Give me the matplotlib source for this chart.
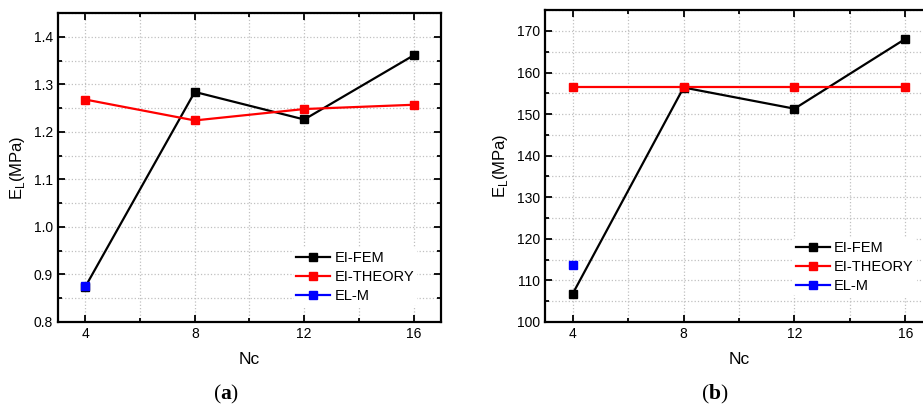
import matplotlib
matplotlib.use("Agg")
import matplotlib.pyplot as plt
import matplotlib.ticker as mticker

plt.rcParams['font.family'] = ['Liberation Sans', 'DejaVu Sans']
plt.rcParams['mathtext.fontset'] = 'custom'
plt.rcParams['mathtext.rm'] = 'Liberation Sans'
plt.rcParams['mathtext.bf'] = 'Liberation Serif:bold'

nc = [4, 8, 12, 16]

# panel (a)
fem_a = [0.874, 1.284, 1.226, 1.361]
theory_a = [1.268, 1.224, 1.248, 1.257]
elm_a = [0.875]

# panel (b)
fem_b = [106.8, 156.4, 151.3, 168.1]
theory_b = [156.5, 156.5, 156.5, 156.5]
elm_b = [113.7]

fig = plt.figure(figsize=(9.23, 4.08), dpi=100)

def style_axes(ax, ylim, ymajor, yminor):
    ax.set_xlim(3, 17)
    ax.set_ylim(*ylim)
    ax.xaxis.set_major_locator(mticker.FixedLocator(nc))
    ax.xaxis.set_minor_locator(mticker.FixedLocator([6, 10, 14]))
    ax.yaxis.set_major_locator(mticker.MultipleLocator(ymajor))
    ax.yaxis.set_minor_locator(mticker.MultipleLocator(yminor))
    ax.grid(True, which='both', linestyle=':', color='#c0c0c0', linewidth=0.9)
    ax.set_axisbelow(True)
    ax.tick_params(which='both', direction='in', top=True, right=True, width=1.3, labelsize=10)
    ax.tick_params(which='major', length=5)
    ax.tick_params(which='minor', length=3)
    for s in ax.spines.values():
        s.set_linewidth(1.6)
    ax.set_xlabel('Nc', fontsize=12.5, labelpad=8)
    ax.set_ylabel(r'E$_\mathrm{L}$(MPa)', fontsize=12, labelpad=5)

def draw(ax, fem, theory, elm):
    kw = dict(marker='s', markersize=6, linewidth=1.6)
    ax.plot(nc, fem, color='black', label='EI-FEM', **kw)
    ax.plot(nc, theory, color='red', label='EI-THEORY', **kw)
    ax.plot(nc[:1], elm, color='blue', label='EL-M', **kw)

ax1 = fig.add_axes([0.0628, 0.211, 0.415, 0.757])
draw(ax1, fem_a, theory_a, elm_a)
style_axes(ax1, (0.8, 1.45), 0.1, 0.05)
ax1.yaxis.set_major_formatter(mticker.FormatStrFormatter('%.1f'))
ax1.legend(loc='upper left', bbox_to_anchor=(0.615, 0.24), frameon=True, facecolor='white',
           edgecolor='none', framealpha=1, fontsize=10.5, handlelength=2.3, handletextpad=0.3,
           labelspacing=0.35, borderpad=0.2, borderaxespad=0)

ax2 = fig.add_axes([0.5905, 0.211, 0.4204, 0.764])
draw(ax2, fem_b, theory_b, elm_b)
style_axes(ax2, (100, 175), 10, 5)
ax2.legend(loc='upper left', bbox_to_anchor=(0.64, 0.27), frameon=True, facecolor='white',
           edgecolor='none', framealpha=1, fontsize=10.5, handlelength=2.3, handletextpad=0.3,
           labelspacing=0.35, borderpad=0.2, borderaxespad=0)

fig.text(0.245, 0.034, r'($\mathbf{a}$)', family='Liberation Serif', fontsize=15.5, ha='center', va='center')
fig.text(0.774, 0.034, r'($\mathbf{b}$)', family='Liberation Serif', fontsize=15.5, ha='center', va='center')

fig.savefig('out.png', dpi=100)
